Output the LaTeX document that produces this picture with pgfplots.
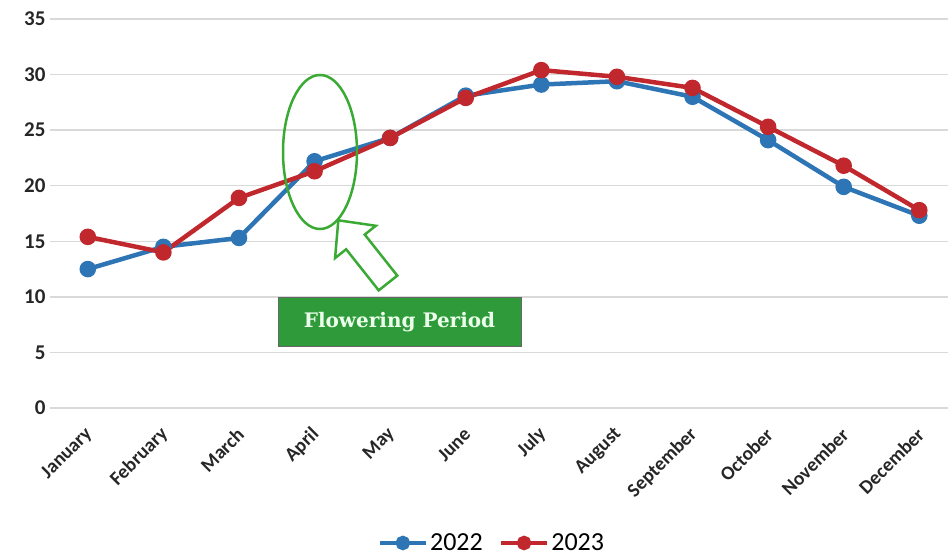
\documentclass[border=0pt]{standalone}
\usepackage{fontspec}
\setmainfont{Carlito}
\newfontfamily\boxfont{DejaVu Serif}
\usepackage{pgfplots}
\pgfplotsset{compat=1.18}
\definecolor{cblue}{HTML}{2E75B6}
\definecolor{cred}{HTML}{C0282D}
\definecolor{cgrid}{HTML}{D9D9D9}
\definecolor{cgreen}{HTML}{3AAA35}
\definecolor{cbox}{HTML}{2E9A3A}
\begin{document}
\begin{tikzpicture}
\useasboundingbox (-50pt,-148pt) rectangle (898pt,408pt);
\begin{axis}[
  scale only axis,
  width=898pt, height=389pt,
  xmin=-0.5, xmax=11.38,
  ymin=0, ymax=35,
  ytick={0,5,...,35},
  xtick={0,...,11},
  xticklabels={January,February,March,April,May,June,July,August,September,October,November,December},
  axis line style={draw=none},
  major tick length=0pt,
  ymajorgrids,
  grid style={cgrid, line width=1.5pt},
  /pgf/number format/assume math mode=true,
  yticklabel style={font=\fontsize{21}{23}\selectfont\bfseries, text=black!85, xshift=-1pt},
  xticklabel style={font=\fontsize{19.5}{21}\selectfont\bfseries, text=black!85, xshift=4pt, yshift=-21pt, rotate=45, anchor=east},
  clip=false,
  legend style={at={(0.492,-0.347)}, anchor=center, draw=none, fill=none,
    font=\fontsize{26}{28}\selectfont, legend columns=2,
    /tikz/every even column/.append style={column sep=14pt}},
  legend image code/.code={\draw[mark repeat=2,mark phase=2,mark size=5pt,#1] plot coordinates {(0pt,0pt) (23pt,0pt) (46pt,0pt)};},
]
\addplot[cblue, line width=4.5pt, mark=*, mark size=6pt, mark options={solid}] coordinates {
(0,12.5) (1,14.5) (2,15.3) (3,22.2) (4,24.3) (5,28.1) (6,29.1) (7,29.4) (8,28.0) (9,24.1) (10,19.9) (11,17.3)};
\addlegendentry{2022}
\addplot[cred, line width=4.5pt, mark=*, mark size=6pt, mark options={solid}] coordinates {
(0,15.4) (1,14.0) (2,18.9) (3,21.3) (4,24.3) (5,27.9) (6,30.4) (7,29.8) (8,28.8) (9,25.3) (10,21.8) (11,17.8)};
\addlegendentry{2023}
\end{axis}
\draw[cgreen, line width=2.5pt] (270pt,256pt) ellipse [x radius=37pt, y radius=77pt];
\begin{scope}[shift={(338pt,125pt)}, rotate=128.4]
\draw[cgreen, line width=2.5pt, fill=white, line join=miter]
  (0pt,-11.85pt) -- (52.4pt,-11.85pt) -- (52.4pt,-26pt) -- (80pt,0pt) -- (52.4pt,26pt) -- (52.4pt,11.85pt) -- (0pt,11.85pt) -- cycle;
\end{scope}
\node[draw=black!60, line width=1pt, fill=cbox, minimum width=243pt, minimum height=49pt, inner sep=0pt,
  text=white!92!green, font=\boxfont\bfseries\fontsize{20}{22}\selectfont] at (349.5pt,85.5pt) {Flowering Period};
\end{tikzpicture}
\end{document}
